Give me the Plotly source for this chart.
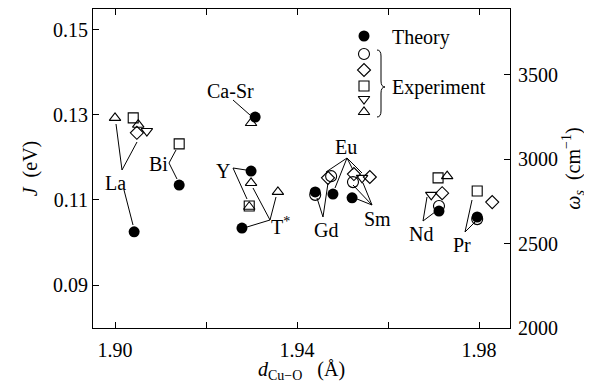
import plotly.graph_objects as go

# ---------------- data (J in eV vs d_Cu-O in Angstrom) ----------------
theory_x = [1.9042, 1.9141, 1.9308, 1.9299, 1.9279, 1.9440, 1.9479, 1.9521, 1.9712, 1.9796]
theory_J = [0.1025, 0.1135, 0.1295, 0.1168, 0.1034, 0.1119, 0.1114, 0.1105, 0.1074, 0.1060]

circle_x = [1.9440, 1.9475, 1.9523, 1.9712, 1.9796]
circle_J = [0.1112, 0.1156, 0.1142, 0.1086, 0.1055]

diamond_x = [1.9048, 1.9468, 1.9525, 1.9560, 1.9719, 1.9829]
diamond_J = [0.1258, 0.1152, 0.1161, 0.1154, 0.1116, 0.1095]

square_x = [1.9040, 1.9141, 1.9295, 1.9710, 1.9796]
square_J = [0.1293, 0.1232, 0.1086, 0.1152, 0.1121]

tridown_x = [1.9070, 1.9543, 1.9695]
tridown_J = [0.1262, 0.1152, 0.1112]

triup_x = [1.9000, 1.9051, 1.9299, 1.9299, 1.9295, 1.9358, 1.9730]
triup_J = [0.1293, 0.1277, 0.1281, 0.1140, 0.1084, 0.1119, 0.1156]

x_ticks = [1.90, 1.94, 1.98]
x_minor_ticks = [1.92, 1.96]
J_ticks = [0.09, 0.11, 0.13, 0.15]
w_ticks = [2000, 2500, 3000, 3500]

compound_labels = ["La", "Bi", "Ca-Sr", "Y", "T<sup>*</sup>", "Gd", "Eu", "Sm", "Nd", "Pr"]

# ---------------- layout helpers ----------------
FONT = "Liberation Serif"
PAGE_W, PAGE_H = 592, 383
BODY = 8                      # default page margin around the plot div
W, H = PAGE_W - BODY, PAGE_H - BODY
L, R, T, B = 93, 510, 9, 328  # plot frame in page pixels

label_pos = [(115, 183), (158, 164), (230, 91), (223, 171), (280, 226),
             (326, 230), (346, 147), (377, 219), (421, 234), (462, 245)]

leaders = [
    [(116, 124), (122, 170)], [(137, 142), (122, 170)], [(124, 190), (133, 225)],
    [(176, 150), (169, 163), (172, 169), (177, 179)],
    [(233, 100), (250, 115)],
    [(246, 170), (233, 168), (247, 199)],
    [(253, 188), (270, 220)], [(276, 197), (270, 220)], [(247, 227), (270, 220)],
    [(317, 198), (323, 217), (328, 183)],
    [(347, 158), (326, 172)], [(347, 158), (335, 188)], [(347, 158), (353, 170)], [(347, 158), (362, 173)],
    [(372, 205), (353, 185)], [(372, 205), (363, 183)], [(372, 205), (357, 199)],
    [(427, 197), (423, 221), (435, 212)],
    [(472, 200), (465, 232), (475, 222)],
]

fig = go.Figure()

exp_series = [
    (circle_x, circle_J, "circle-open", 11),
    (diamond_x, diamond_J, "diamond-open", 10),
    (square_x, square_J, "square-open", 10),
    (tridown_x, tridown_J, "triangle-down-open", 10),
    (triup_x, triup_J, "triangle-up-open", 10),
]
for xs, ys, sym, sz in exp_series:
    fig.add_trace(go.Scatter(x=xs, y=ys, mode="markers", showlegend=False,
                             marker=dict(symbol=sym, size=sz, color="black",
                                         line=dict(width=1.1, color="black"))))
fig.add_trace(go.Scatter(x=theory_x, y=theory_J, mode="markers", showlegend=False,
                         marker=dict(symbol="circle", size=11, color="black",
                                     line=dict(width=0))))

# right axis (omega_s) trace holder
fig.add_trace(go.Scatter(x=[1.94], y=[3000], yaxis="y2", mode="markers",
                         marker=dict(opacity=0), showlegend=False, hoverinfo="skip"))

# legend key in overlay pixel frame
leg_syms = ["circle", "circle-open", "diamond-open", "square-open", "triangle-down-open", "triangle-up-open"]
leg_y = [36, 54, 70, 86, 99, 112]
for s, yy in zip(leg_syms, leg_y):
    fig.add_trace(go.Scatter(x=[364], y=[yy], xaxis="x3", yaxis="y3", mode="markers",
                             showlegend=False,
                             marker=dict(symbol=s, size=11 if "circle" in s else 10, color="black",
                                         line=dict(width=1.1 if "open" in s else 0, color="black"))))

shapes = []
for pl in leaders:
    path = "M " + " L ".join(f"{x} {y}" for x, y in pl)
    shapes.append(dict(type="path", path=path, xref="x3", yref="y3",
                       line=dict(color="black", width=1)))
# brace
shapes.append(dict(type="path", xref="x3", yref="y3",
                   path="M 377 50 Q 381 50 381 56 L 381 81 Q 381 87 385 87 Q 381 87 381 93 L 381 111 Q 381 117 377 117",
                   line=dict(color="black", width=1)))

annotations = []
for txt, (px, py) in zip(compound_labels, label_pos):
    annotations.append(dict(x=px, y=py, xref="x3", yref="y3", text=txt, showarrow=False,
                            font=dict(family=FONT, size=20, color="black")))
annotations.append(dict(x=390, y=37, xref="x3", yref="y3", text="Theory", showarrow=False,
                        xanchor="left", font=dict(family=FONT, size=20, color="black")))
annotations.append(dict(x=390, y=87, xref="x3", yref="y3", text="Experiment", showarrow=False,
                        xanchor="left", font=dict(family=FONT, size=20, color="black")))

axis_common = dict(showline=True, linecolor="black", linewidth=1, ticks="inside",
                   ticklen=6, tickcolor="black", tickwidth=1, showgrid=False, zeroline=False,
                   tickfont=dict(family=FONT, size=20, color="black"))

fig.update_layout(
    width=W, height=H,
    margin=dict(l=L - BODY, r=PAGE_W - R, t=T - BODY, b=PAGE_H - B, pad=0, autoexpand=False),
    paper_bgcolor="white", plot_bgcolor="white",
    showlegend=False,
    xaxis=dict(range=[1.89516, 1.98681], tickvals=x_ticks, tickformat=".2f",
               minor=dict(tickvals=x_minor_ticks, ticks="inside", ticklen=6,
                          tickcolor="black", tickwidth=1, showgrid=False),
               mirror="ticks", ticklabelstandoff=4,
               title=dict(text="<i>d</i><sub>Cu−O</sub>   (Å)", standoff=6,
                          font=dict(family=FONT, size=20, color="black")),
               **axis_common),
    yaxis=dict(range=[0.0799, 0.1549], tickvals=J_ticks, tickformat=".2f",
               title=dict(text="<i>J</i>  (eV)", standoff=10,
                          font=dict(family=FONT, size=20, color="black")),
               **axis_common),
    yaxis2=dict(range=[2000, 3891], tickvals=w_ticks, overlaying="y", side="right",
                ticklabelstandoff=3,
                title=dict(text="<i>ω<sub>s</sub></i>  (cm<sup>−1</sup>)", standoff=8,
                           font=dict(family=FONT, size=20, color="black")),
                **axis_common),
    xaxis3=dict(range=[L, R], overlaying="x", anchor="y3", visible=False, fixedrange=True),
    yaxis3=dict(range=[B, T], overlaying="y", anchor="x3", visible=False, fixedrange=True),
    shapes=shapes,
    annotations=annotations,
)

fig.write_html("out.html")
